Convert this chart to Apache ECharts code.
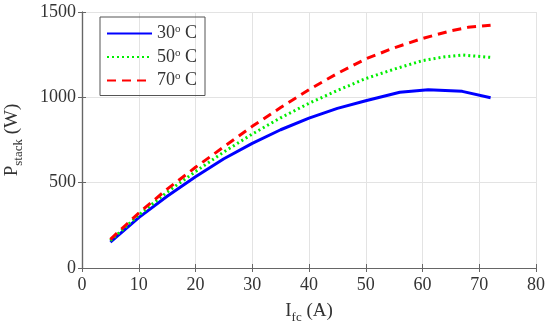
<!DOCTYPE html>
<html><head><meta charset="utf-8">
<script src="https://cdn.jsdelivr.net/npm/echarts@6/dist/echarts.min.js"></script>
<style>html,body{margin:0;padding:0;background:#fff}#c{width:550px;height:333px}</style>
</head><body><div id="c"></div>
<script>
var xTicks = [0, 10, 20, 30, 40, 50, 60, 70, 80];
var yTicks = [0, 500, 1000, 1500];
var seriesNames = ['30', '50', '70'];
var s30 = [[5,152],[10,295],[15,420],[20,535],[25,640],[30,730],[35,810],[40,878],[45,935],[50,980],[56,1030],[61,1045],[67,1035],[72,998]];
var s50 = [[5,160],[10,310],[15,445],[20,565],[25,680],[30,785],[35,880],[40,965],[45,1040],[50,1110],[55,1165],[60,1215],[64,1238],[67,1248],[72,1234]];
var s70 = [[5,168],[10,322],[15,462],[20,590],[25,710],[30,830],[35,940],[40,1045],[45,1140],[50,1225],[55,1290],[60,1345],[65,1390],[68,1410],[72,1423]];

var font = 'Liberation Serif';
var txt = '#333';
var chart = echarts.init(document.getElementById('c'));
var axisCommon = {
  axisLine: {show: true, lineStyle: {color: '#666', width: 1.2}},
  axisTick: {show: true, inside: true, length: 4, lineStyle: {color: '#666'}},
  splitLine: {show: false}
};
chart.setOption({
  animation: false,
  textStyle: {fontFamily: font},
  grid: {left: 82, right: 14, top: 12, bottom: 65, outerBoundsMode: 'none', containLabel: false},
  legend: {
    orient: 'vertical', left: 100, top: 17, width: 99,
    borderColor: '#555', borderWidth: 1, padding: [7, 8, 6, 6],
    itemWidth: 45, itemHeight: 10, itemGap: 5,
    itemStyle: {opacity: 0},
    data: seriesNames.map(function(n){return n + 'o C';}),
    formatter: function(n){ return n.slice(0,2) + '{s|o} C'; },
    textStyle: {fontFamily: font, fontSize: 18, color: txt, rich: {s: {fontSize: 11, verticalAlign: 'top', padding: [0,0,8,0], fontFamily: font, color: txt}}}
  },
  xAxis: [Object.assign({
    type: 'value', min: 0, max: 80, interval: 10, position: 'bottom',
    name: '{a|I}{b|fc}{a| (A)}', nameLocation: 'middle', nameGap: 31,
    nameTextStyle: {rich: {a: {fontSize: 19, fontFamily: font, color: txt}, b: {fontSize: 13, fontFamily: font, color: txt, padding: [12,0,0,0]}}},
    axisLabel: {fontSize: 18, color: txt, margin: 8, fontFamily: font, formatter: function(v){return String(v);}},
    splitLine: {show: true, lineStyle: {color: '#e3e3e3', width: 1}}
  }, {axisLine: axisCommon.axisLine, axisTick: axisCommon.axisTick}),
  Object.assign({type: 'value', min: 0, max: 80, interval: 10, position: 'top', axisLabel: {show: false}}, axisCommon)],
  yAxis: [Object.assign({
    type: 'value', min: 0, max: 1500, interval: 500, position: 'left',
    name: '{a|P}{b|stack}{a| (W)}', nameLocation: 'middle', nameGap: 57, nameRotate: 90,
    nameTextStyle: {rich: {a: {fontSize: 19, fontFamily: font, color: txt}, b: {fontSize: 13, fontFamily: font, color: txt, padding: [12,0,0,0]}}},
    axisLabel: {fontSize: 18, color: txt, margin: 6, fontFamily: font, formatter: function(v){return String(v);}},
    splitLine: {show: true, lineStyle: {color: '#e3e3e3', width: 1}}
  }, {axisLine: axisCommon.axisLine, axisTick: axisCommon.axisTick}),
  Object.assign({type: 'value', min: 0, max: 1500, interval: 500, position: 'right', axisLabel: {show: false}}, axisCommon)],
  series: [
    {name: '30o C', type: 'line', data: s30, symbol: 'none', lineStyle: {color: '#0000ff', width: 3, type: 'solid'}, itemStyle: {color: '#0000ff'}},
    {name: '50o C', type: 'line', data: s50, symbol: 'none', lineStyle: {color: '#00ee00', width: 3, type: [2, 3]}, itemStyle: {color: '#00ee00'}},
    {name: '70o C', type: 'line', data: s70, symbol: 'none', lineStyle: {color: '#ff0000', width: 3, type: [9, 6]}, itemStyle: {color: '#ff0000'}}
  ]
});
</script></body></html>
